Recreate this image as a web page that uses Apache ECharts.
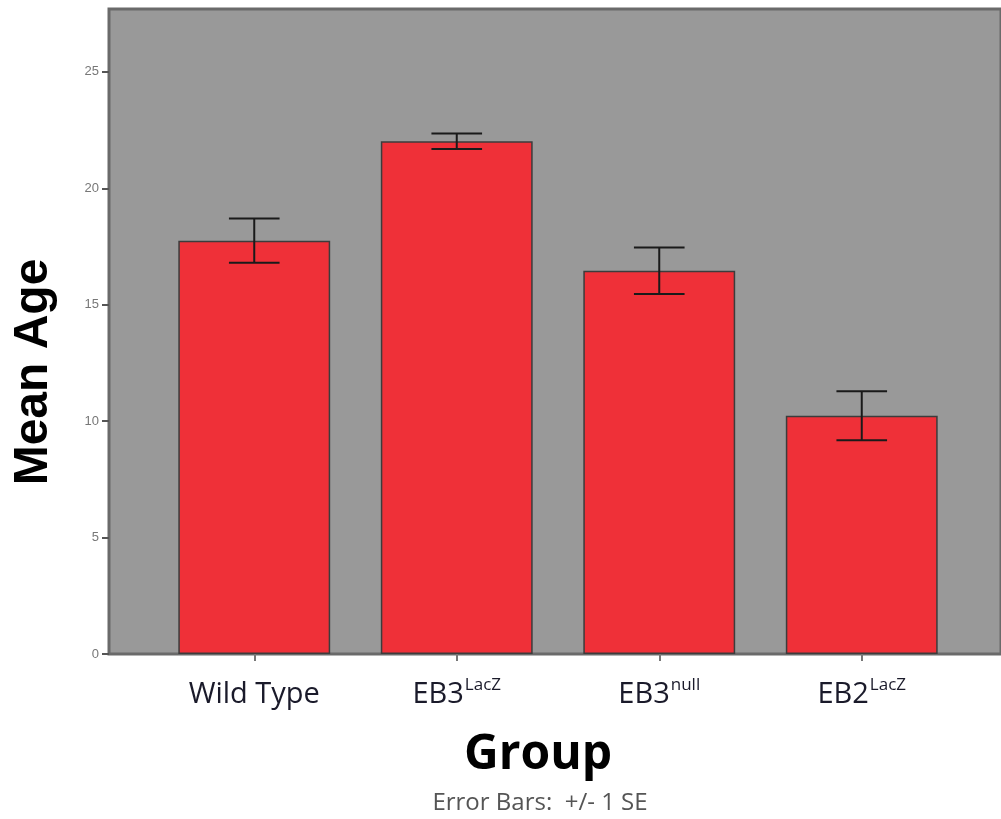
<!DOCTYPE html>
<html>
<head>
<meta charset="utf-8">
<script src="https://cdn.jsdelivr.net/npm/echarts@6/dist/echarts.min.js"></script>
<style>
html,body{margin:0;padding:0;background:#fff;}
#c{width:1001px;height:819px;}
</style>
</head>
<body>
<div id="c"></div>
<script>
// ---- data ----
const catMain = ['Wild Type', 'EB3', 'EB3', 'EB2'];
const catSup = ['', 'LacZ', 'null', 'LacZ'];
const meanAge = [17.75, 22.02, 16.46, 10.23];
const stdErr = [0.95, 0.33, 1.0, 1.05];
const yTicks = [0, 5, 10, 15, 20, 25];
const yMax = 27.7;

const categories = catMain.map((m, i) => catSup[i] ? '{m|' + m + '}{s|' + catSup[i] + '}' : '{m|' + m + '}');

const chart = echarts.init(document.getElementById('c'));
const option = {
  animation: false,
  backgroundColor: '#ffffff',
  grid: [
    { left: 109, top: 9, right: -6, bottom: 165, show: true, backgroundColor: '#999999', borderColor: '#6a6a6a', borderWidth: 3, containLabel: false },
    { left: 153, top: 9, right: 38, bottom: 165, show: false, containLabel: false }
  ],
  xAxis: [
    { type: 'value', gridIndex: 0, show: false, min: 0, max: 1 },
    {
      type: 'category', gridIndex: 1, data: categories,
      axisLine: { show: false },
      axisTick: { show: true, alignWithLabel: true, length: 7, lineStyle: { color: '#777', width: 2 } },
      axisLabel: {
        margin: 23,
        rich: {
          m: { fontFamily: 'Open Sans', fontSize: 29, color: '#1a1a2a', lineHeight: 32, verticalAlign: 'bottom' },
          s: { fontFamily: 'Open Sans', fontSize: 17, color: '#1a1a2a', lineHeight: 32, verticalAlign: 'top', padding: [0, 0, 0, 1] }
        }
      }
    }
  ],
  yAxis: [
    {
      type: 'value', gridIndex: 0, min: 0, max: yMax, interval: 5,
      axisLine: { show: false },
      splitLine: { show: false },
      axisTick: { show: true, length: 7, customValues: yTicks, lineStyle: { color: '#555', width: 2 } },
      axisLabel: { customValues: yTicks, fontFamily: 'Liberation Sans', fontSize: 13, color: '#777', margin: 10 }
    },
    { type: 'value', gridIndex: 1, min: 0, max: yMax, show: false }
  ],
  series: [
    {
      type: 'bar', xAxisIndex: 1, yAxisIndex: 1, data: meanAge, barWidth: '75%',
      itemStyle: { color: '#EF3038', borderColor: '#3c3c3c', borderWidth: 1.5 },
      z: 2
    },
    {
      type: 'custom', xAxisIndex: 1, yAxisIndex: 1,
      data: meanAge.map((m, i) => [i, m - stdErr[i], m + stdErr[i]]),
      z: 5,
      renderItem: function (params, api) {
        const i = api.value(0);
        const lo = api.coord([i, api.value(1)]);
        const hi = api.coord([i, api.value(2)]);
        const half = api.size([1, 0])[0] * 0.125;
        const st = { stroke: '#1a1a1a', lineWidth: 2 };
        return {
          type: 'group',
          children: [
            { type: 'line', shape: { x1: lo[0], y1: lo[1], x2: hi[0], y2: hi[1] }, style: st },
            { type: 'line', shape: { x1: hi[0] - half, y1: hi[1], x2: hi[0] + half, y2: hi[1] }, style: st },
            { type: 'line', shape: { x1: lo[0] - half, y1: lo[1], x2: lo[0] + half, y2: lo[1] }, style: st }
          ]
        };
      }
    }
  ],
  graphic: [
    {
      type: 'text', x: 34, y: 372, rotation: Math.PI / 2,
      style: { text: 'Mean Age', font: 'bold 48px "Liberation Sans"', fill: '#000', align: 'center', verticalAlign: 'middle' }
    },
    {
      type: 'text', x: 538, y: 755,
      style: { text: 'Group', font: 'bold 48px "Open Sans"', fill: '#000', align: 'center', verticalAlign: 'middle' }
    },
    {
      type: 'text', x: 540, y: 803,
      style: { text: 'Error Bars:  +/- 1 SE', font: '24px "Open Sans"', fill: '#555', align: 'center', verticalAlign: 'middle' }
    }
  ]
};
chart.setOption(option);
</script>
</body>
</html>
